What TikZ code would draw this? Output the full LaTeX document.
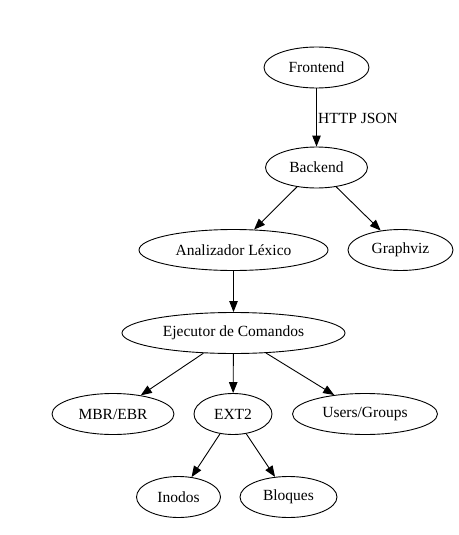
\documentclass[tikz,border=0pt]{standalone}
\usepackage{fontspec}
\setmainfont{Liberation Serif}
\usetikzlibrary{shapes.geometric,arrows.meta}
\begin{document}
\begin{tikzpicture}[x=1pt,y=-1pt,
  nd/.style={draw,ellipse,line width=0.9pt,inner sep=0pt,minimum height=41pt,font=\fontsize{15.5pt}{18pt}\selectfont},
  edge/.style={draw,line width=0.9pt,-{Triangle[length=11pt,width=8.5pt]}}]
\useasboundingbox (0,0) rectangle (458,535);
\node[nd,minimum width=105pt] (fe) at (316.5,67.5) {Frontend};
\node[nd,minimum width=102pt] (be) at (316.5,167.5) {Backend};
\node[nd,minimum width=189pt] (al) at (233.5,250) {Analizador Léxico};
\node[nd,minimum width=105pt] (gv) at (400.5,250) {Graphviz};
\node[nd,minimum width=223pt] (ej) at (233.5,333) {Ejecutor de Comandos};
\node[nd,minimum width=122pt] (mb) at (113,414) {MBR/EBR};
\node[nd,minimum width=78pt] (ex) at (233,414) {EXT2};
\node[nd,minimum width=145pt] (us) at (365,414) {Users/Groups};
\node[nd,minimum width=84pt] (in) at (178.5,497) {Inodos};
\node[nd,minimum width=97pt] (bl) at (288.5,497) {Bloques};
\draw[edge] (fe) -- (be);
\node[anchor=west,inner sep=0pt,font=\fontsize{15.5pt}{18pt}\selectfont] (lbl) at (318,118) {HTTP JSON};
\draw[edge] (be) -- (al);
\draw[edge] (be) -- (gv);
\draw[edge] (al) -- (ej);
\draw[edge] (ej) -- (mb);
\draw[edge] (ej) -- (ex);
\draw[edge] (ej) -- (us);
\draw[edge] (ex) -- (in);
\draw[edge] (ex) -- (bl);
\end{tikzpicture}
\end{document}
